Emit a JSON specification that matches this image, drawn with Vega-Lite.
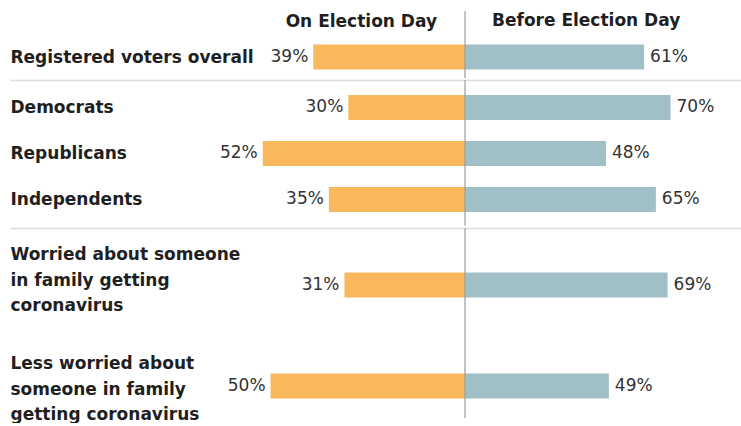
{
  "$schema": "https://vega.github.io/schema/vega-lite/v6.json",
  "padding": {"left": 10, "top": 10, "right": 0, "bottom": 0},
  "background": "white",
  "config": {"view": {"stroke": null}, "font": "DejaVu Sans"},
  "datasets": {
    "rows": [
      {"group": 1, "cat": "Registered voters overall", "on": 39, "before": 61},
      {"group": 2, "cat": "Democrats", "on": 30, "before": 70},
      {"group": 2, "cat": "Republicans", "on": 52, "before": 48},
      {"group": 2, "cat": "Independents", "on": 35, "before": 65},
      {"group": 3, "cat": "Worried about someone|in family getting|coronavirus", "on": 31, "before": 69},
      {"group": 3, "cat": "Less worried about|someone in family|getting coronavirus", "on": 50, "before": 49}
    ]
  },
  "spacing": 0,
  "resolve": {"scale": {"x": "independent", "y": "independent"}},
  "vconcat": [
    {
      "spacing": 0,
      "bounds": "flush",
      "resolve": {"scale": {"x": "independent", "y": "independent"}},
      "hconcat": [
        {
          "width": 455, "height": 67,
          "title": {"text": "On Election Day", "frame": "group", "anchor": "end", "dx": -28, "offset": -20, "font": "DejaVu Sans", "fontSize": 17, "fontWeight": "bold", "color": "#1f1f1f"},
          "data": {"name": "rows"},
          "transform": [{"filter": "datum.group == 1"}],
          "layer": [
            {"mark": {"type": "bar", "color": "#FAB85C", "size": 25},
             "encoding": {
               "y": {"field": "cat", "type": "nominal", "sort": null, "scale": {"type": "point", "padding": 0, "align": 0.6866},
                     "axis": {"title": null, "orient": "left", "domain": false, "ticks": false, "tickSize": 0, "grid": false, "labelAlign": "left", "labelBaseline": "middle", "labelPadding": 0, "labelFont": "DejaVu Sans", "labelFontWeight": "bold", "labelFontSize": 17, "labelColor": "#1f1f1f", "labelLimit": 400, "labelLineHeight": 25.5, "labelExpr": "split(datum.label, '|')"}},
               "x": {"field": "on", "type": "quantitative", "scale": {"domain": [0, 117], "nice": false, "reverse": true}, "axis": null}}},
            {"mark": {"type": "text", "align": "right", "baseline": "middle", "dx": -5, "font": "DejaVu Sans", "fontSize": 17, "color": "#333333", "text": {"expr": "datum.on + '%'"}},
             "encoding": {
               "y": {"field": "cat", "type": "nominal", "sort": null},
               "x": {"field": "on", "type": "quantitative"}}}
          ]
        },
        {
          "width": 276, "height": 67,
          "title": {"text": "Before Election Day", "frame": "group", "anchor": "start", "dx": 27, "offset": -20, "font": "DejaVu Sans", "fontSize": 17, "fontWeight": "bold", "color": "#1f1f1f"},
          "data": {"name": "rows"},
          "transform": [{"filter": "datum.group == 1"}],
          "layer": [
            {"mark": {"type": "bar", "color": "#A1BFC6", "size": 25},
             "encoding": {
               "y": {"field": "cat", "type": "nominal", "sort": null, "scale": {"type": "point", "padding": 0, "align": 0.6866}, "axis": null},
               "x": {"field": "before", "type": "quantitative", "scale": {"domain": [0, 94], "nice": false}, "axis": null}}},
            {"mark": {"type": "text", "align": "left", "baseline": "middle", "dx": 6, "font": "DejaVu Sans", "fontSize": 17, "color": "#333333", "text": {"expr": "datum.before + '%'"}},
             "encoding": {
               "y": {"field": "cat", "type": "nominal", "sort": null},
               "x": {"field": "before", "type": "quantitative"}}},
            {"data": {"values": [{}]}, "mark": {"type": "rule", "color": "#9a9a9a", "strokeWidth": 1.2},
             "encoding": {"x": {"datum": 0}}}
          ]
        }
      ]
    },
    {
      "spacing": 0,
      "bounds": "flush",
      "resolve": {"scale": {"x": "independent", "y": "independent"}},
      "hconcat": [
        {
          "width": 455, "height": 145.5,
          "data": {"name": "rows"},
          "transform": [{"filter": "datum.group == 2"}],
          "layer": [
            {"mark": {"type": "bar", "color": "#FAB85C", "size": 25},
             "encoding": {
               "y": {"field": "cat", "type": "nominal", "sort": null, "scale": {"type": "point", "padding": 0.5815, "align": 0.514},
                     "axis": {"title": null, "orient": "left", "domain": false, "ticks": false, "tickSize": 0, "grid": false, "labelAlign": "left", "labelBaseline": "middle", "labelPadding": 0, "labelFont": "DejaVu Sans", "labelFontWeight": "bold", "labelFontSize": 17, "labelColor": "#1f1f1f", "labelLimit": 400, "labelLineHeight": 25.5, "labelExpr": "split(datum.label, '|')"}},
               "x": {"field": "on", "type": "quantitative", "scale": {"domain": [0, 117], "nice": false, "reverse": true},
                     "axis": {"orient": "top", "title": null, "labels": false, "ticks": false, "grid": false, "domain": true, "domainColor": "#dcdcdc", "domainWidth": 1.6}}}},
            {"mark": {"type": "text", "align": "right", "baseline": "middle", "dx": -5, "font": "DejaVu Sans", "fontSize": 17, "color": "#333333", "text": {"expr": "datum.on + '%'"}},
             "encoding": {
               "y": {"field": "cat", "type": "nominal", "sort": null},
               "x": {"field": "on", "type": "quantitative"}}}
          ]
        },
        {
          "width": 276, "height": 145.5,
          "data": {"name": "rows"},
          "transform": [{"filter": "datum.group == 2"}],
          "layer": [
            {"mark": {"type": "bar", "color": "#A1BFC6", "size": 25},
             "encoding": {
               "y": {"field": "cat", "type": "nominal", "sort": null, "scale": {"type": "point", "padding": 0.5815, "align": 0.514}, "axis": null},
               "x": {"field": "before", "type": "quantitative", "scale": {"domain": [0, 94], "nice": false},
                     "axis": {"orient": "top", "title": null, "labels": false, "ticks": false, "grid": false, "domain": true, "domainColor": "#dcdcdc", "domainWidth": 1.6}}}},
            {"mark": {"type": "text", "align": "left", "baseline": "middle", "dx": 6, "font": "DejaVu Sans", "fontSize": 17, "color": "#333333", "text": {"expr": "datum.before + '%'"}},
             "encoding": {
               "y": {"field": "cat", "type": "nominal", "sort": null},
               "x": {"field": "before", "type": "quantitative"}}},
            {"data": {"values": [{}]}, "mark": {"type": "rule", "color": "#9a9a9a", "strokeWidth": 1.2},
             "encoding": {"x": {"datum": 0}}}
          ]
        }
      ]
    },
    {
      "spacing": 0,
      "bounds": "flush",
      "resolve": {"scale": {"x": "independent", "y": "independent"}},
      "hconcat": [
        {
          "width": 455, "height": 190,
          "data": {"name": "rows"},
          "transform": [{"filter": "datum.group == 3"}],
          "layer": [
            {"mark": {"type": "bar", "color": "#FAB85C", "size": 25},
             "encoding": {
               "y": {"field": "cat", "type": "nominal", "sort": null, "scale": {"type": "point", "padding": 0.4406, "align": 0.64},
                     "axis": {"title": null, "orient": "left", "domain": false, "ticks": false, "tickSize": 0, "grid": false, "labelAlign": "left", "labelBaseline": "middle", "labelPadding": 0, "labelOffset": {"condition": {"test": "indexof(datum.label, 'Less') == 0", "value": -22}, "value": -30}, "labelFont": "DejaVu Sans", "labelFontWeight": "bold", "labelFontSize": 17, "labelColor": "#1f1f1f", "labelLimit": 400, "labelLineHeight": 25.5, "labelExpr": "split(datum.label, '|')"}},
               "x": {"field": "on", "type": "quantitative", "scale": {"domain": [0, 117], "nice": false, "reverse": true},
                     "axis": {"orient": "top", "title": null, "labels": false, "ticks": false, "grid": false, "domain": true, "domainColor": "#dcdcdc", "domainWidth": 1.6}}}},
            {"mark": {"type": "text", "align": "right", "baseline": "middle", "dx": -5, "font": "DejaVu Sans", "fontSize": 17, "color": "#333333", "text": {"expr": "datum.on + '%'"}},
             "encoding": {
               "y": {"field": "cat", "type": "nominal", "sort": null},
               "x": {"field": "on", "type": "quantitative"}}}
          ]
        },
        {
          "width": 276, "height": 190,
          "data": {"name": "rows"},
          "transform": [{"filter": "datum.group == 3"}],
          "layer": [
            {"mark": {"type": "bar", "color": "#A1BFC6", "size": 25},
             "encoding": {
               "y": {"field": "cat", "type": "nominal", "sort": null, "scale": {"type": "point", "padding": 0.4406, "align": 0.64}, "axis": null},
               "x": {"field": "before", "type": "quantitative", "scale": {"domain": [0, 94], "nice": false},
                     "axis": {"orient": "top", "title": null, "labels": false, "ticks": false, "grid": false, "domain": true, "domainColor": "#dcdcdc", "domainWidth": 1.6}}}},
            {"mark": {"type": "text", "align": "left", "baseline": "middle", "dx": 6, "font": "DejaVu Sans", "fontSize": 17, "color": "#333333", "text": {"expr": "datum.before + '%'"}},
             "encoding": {
               "y": {"field": "cat", "type": "nominal", "sort": null},
               "x": {"field": "before", "type": "quantitative"}}},
            {"data": {"values": [{}]}, "mark": {"type": "rule", "color": "#9a9a9a", "strokeWidth": 1.2},
             "encoding": {"x": {"datum": 0}}}
          ]
        }
      ]
    }
  ]
}
